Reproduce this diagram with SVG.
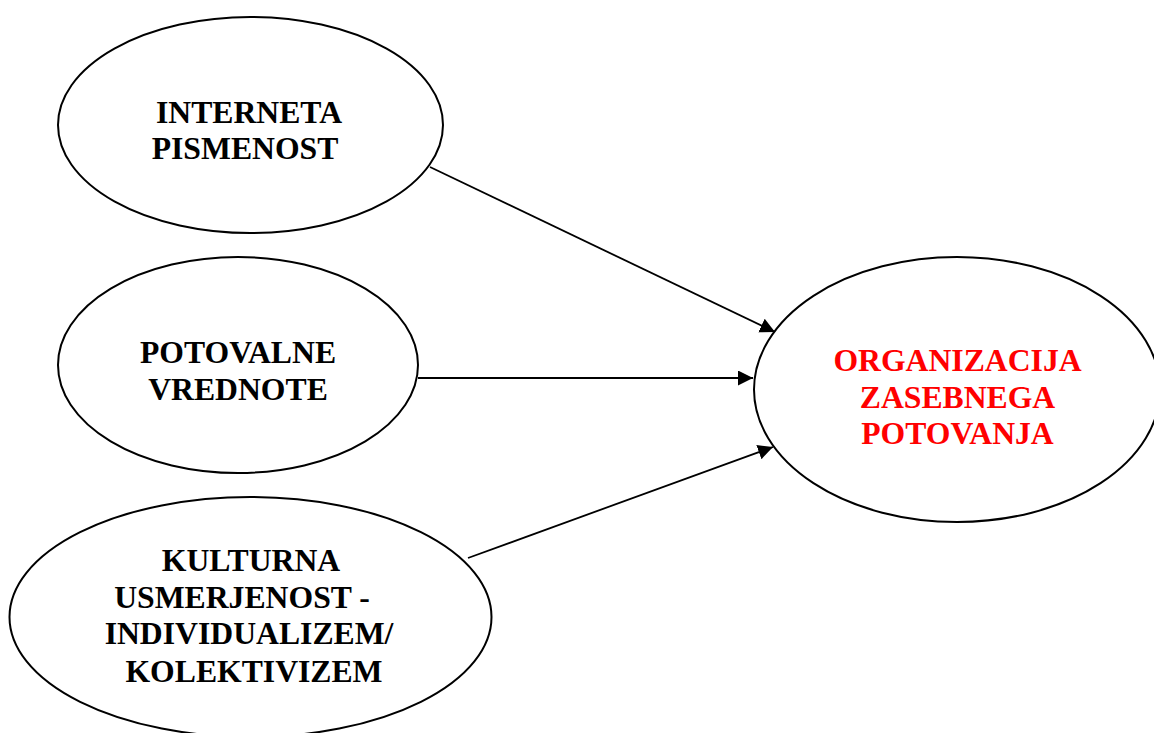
<svg xmlns="http://www.w3.org/2000/svg" width="1154" height="733" viewBox="0 0 1154 733">
<style>
.node{fill:#fff;stroke:#000;stroke-width:2}
.lbl{font-family:"Liberation Serif","Times New Roman",serif;font-weight:bold;font-size:31.7px;text-anchor:middle;fill:#000}
.red{fill:#ff0000}
.conn{stroke:#000;stroke-width:1.8;fill:none;marker-end:url(#ah)}
</style>
<defs>
<marker id="ah" markerUnits="userSpaceOnUse" markerWidth="16" markerHeight="16" viewBox="0 0 16 16" refX="15" refY="7.5" orient="auto">
<path d="M0,0 L15,7.5 L0,15 z" fill="#000"/>
</marker>
</defs>
<rect width="1154" height="733" fill="#fff"/>
<g id="connectors">
<line class="conn" x1="430" y1="167" x2="775" y2="332"/>
<line class="conn" x1="418" y1="378" x2="753" y2="378"/>
<line class="conn" x1="468" y1="558" x2="773" y2="447"/>
</g>
<g id="n1">
<ellipse class="node" cx="250.5" cy="125" rx="192.5" ry="108"/>
<text class="lbl" x="249" y="123">INTERNETA</text>
<text class="lbl" x="245" y="159">PISMENOST</text>
</g>
<g id="n2">
<ellipse class="node" cx="238" cy="365" rx="180" ry="108"/>
<text class="lbl" x="238" y="363">POTOVALNE</text>
<text class="lbl" x="238" y="400">VREDNOTE</text>
</g>
<g id="n3">
<ellipse class="node" cx="250.5" cy="617" rx="241" ry="120"/>
<text class="lbl" x="251" y="571">KULTURNA</text>
<text class="lbl" x="242" y="608">USMERJENOST -</text>
<text class="lbl" x="249" y="644">INDIVIDUALIZEM/</text>
<text class="lbl" x="254" y="682">KOLEKTIVIZEM</text>
</g>
<g id="n4">
<ellipse class="node" cx="957" cy="389.5" rx="203" ry="132.5"/>
<text class="lbl red" x="957.5" y="371">ORGANIZACIJA</text>
<text class="lbl red" x="957.5" y="408">ZASEBNEGA</text>
<text class="lbl red" x="957.5" y="444">POTOVANJA</text>
</g>
</svg>
